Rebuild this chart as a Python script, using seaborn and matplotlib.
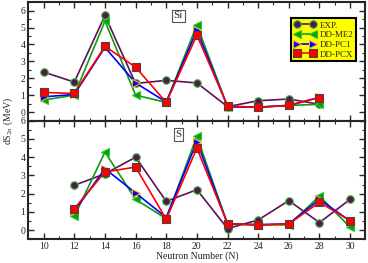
import matplotlib
matplotlib.use("Agg")
import matplotlib.pyplot as plt
import seaborn as sns
import pandas as pd
from matplotlib.ticker import MultipleLocator

sns.set_style("ticks")
plt.rcParams['font.family'] = ['Liberation Serif', 'DejaVu Serif']
plt.rcParams['mathtext.fontset'] = 'stix'

# Neutron numbers
n_si = [10, 12, 14, 16, 18, 20, 22, 24, 26, 28]
n_s = [12, 14, 16, 18, 20, 22, 24, 26, 28, 30]

# Si isotopes (dS2n, MeV)
si_exp = [2.37, 1.78, 5.71, 1.70, 1.88, 1.73, 0.33, 0.68, 0.78, 0.47]
si_me2 = [0.72, 1.01, 5.38, 1.01, 0.58, 5.15, 0.33, 0.30, 0.40, 0.47]
si_pc1 = [0.91, 1.05, 3.83, 1.73, 0.60, 4.84, 0.33, 0.30, 0.40, 0.88]
si_pcx = [1.17, 1.11, 3.89, 2.66, 0.58, 4.55, 0.37, 0.29, 0.41, 0.87]

# S isotopes (dS2n, MeV)
s_exp = [2.46, 3.09, 4.00, 1.58, 2.22, 0.09, 0.56, 1.62, 0.42, 1.69]
s_me2 = [0.76, 4.28, 1.69, 0.63, 5.15, 0.33, 0.30, 0.29, 1.87, 0.16]
s_pc1 = [1.04, 3.37, 2.04, 0.70, 4.86, 0.35, 0.30, 0.35, 1.69, 0.50]
s_pcx = [1.18, 3.19, 3.46, 0.60, 4.50, 0.36, 0.29, 0.34, 1.53, 0.53]

labels = ['EXP.', 'DD-ME2', 'DD-PC1', 'DD-PCX']
styles = {
    'EXP.':   dict(color='#5e1256', marker='o', mfc='#5e1256', mec='#33cc33', ms=5.5),
    'DD-ME2': dict(color='#119911', marker='<', mfc='#119911', mec='#22cc22', ms=6),
    'DD-PC1': dict(color='#0000ff', marker='>', mfc='#0000ff', mec='#ffaa33', ms=6),
    'DD-PCX': dict(color='#ff0000', marker='s', mfc='#ff0000', mec='#444444', ms=5.5),
}

fig, axes = plt.subplots(2, 1, figsize=(3.68, 2.63), dpi=100, sharex=True)
fig.subplots_adjust(left=0.077, right=0.993, top=0.992, bottom=0.09, hspace=0)

panels = [
    (axes[0], n_si, [si_exp, si_me2, si_pc1, si_pcx], 'Si', (-0.5, 6.5)),
    (axes[1], n_s, [s_exp, s_me2, s_pc1, s_pcx], 'S', (-0.5, 6.0)),
]

for ax, n, series, name, ylim in panels:
    for lab, vals in zip(labels, series):
        st = styles[lab]
        sns.lineplot(x=n, y=vals, ax=ax, color=st['color'], marker=st['marker'],
                     markerfacecolor=st['mfc'], markeredgecolor=st['mec'],
                     markersize=st['ms'], markeredgewidth=0.8, linewidth=1.2,
                     label=lab, legend=False)
    ax.set_ylim(*ylim)
    ax.set_xlim(9, 31)
    ax.xaxis.set_major_locator(MultipleLocator(2))
    ax.xaxis.set_minor_locator(MultipleLocator(1))
    ax.yaxis.set_major_locator(MultipleLocator(1))
    ax.yaxis.set_minor_locator(MultipleLocator(0.5))
    ax.tick_params(which='both', direction='in', top=True, right=True, labelsize=7, pad=2)
    ax.tick_params(which='major', length=4, width=1)
    ax.tick_params(which='minor', length=2, width=0.8)
    for sp in ax.spines.values():
        sp.set_linewidth(1.5)
    ax.text(0.445, 0.885, name, transform=ax.transAxes, ha='center', va='center', fontsize=8,
            bbox=dict(boxstyle='square,pad=0.15', facecolor='white', edgecolor='#555555', linewidth=0.8))
    ax.set_ylabel('')

axes[0].set_yticks([0, 1, 2, 3, 4, 5, 6])
axes[1].set_yticks([0, 1, 2, 3, 4, 5, 6])

handles = axes[0].get_lines()[:4]
leg = axes[0].legend(handles, labels, loc='upper right', numpoints=2, fontsize=6.5,
                     facecolor='yellow', edgecolor='black', framealpha=1, fancybox=False,
                     borderpad=0.3, labelspacing=0.15, handlelength=2.4, handletextpad=0.4,
                     bbox_to_anchor=(0.985, 0.9))
leg.get_frame().set_linewidth(1.5)

axes[1].set_xlabel('Neutron Number (N)', fontsize=7, labelpad=0)
fig.text(0.022, 0.54, r'dS$_{2n}$ (MeV)', rotation=90, ha='center', va='center', fontsize=7)

fig.savefig('out.png', dpi=100)
